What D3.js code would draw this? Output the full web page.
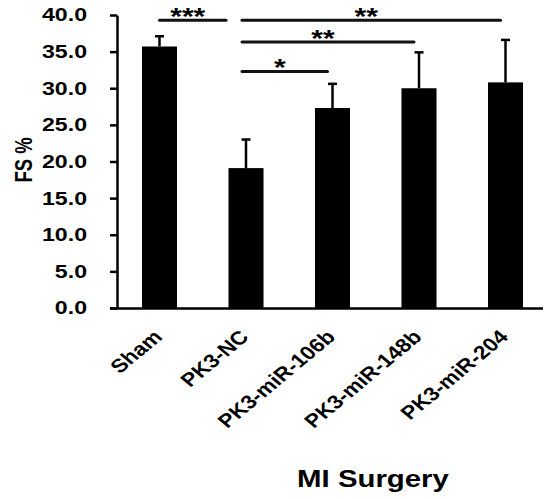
<!DOCTYPE html>
<html>
<head>
<meta charset="utf-8">
<script src="https://cdn.jsdelivr.net/npm/d3@7"></script>
<style>
  body { margin: 0; background: #fff; }
  text { font-family: "Liberation Sans", Arial, Helvetica, sans-serif; font-weight: bold; fill: #000; }
</style>
</head>
<body>
<svg id="chart" width="544" height="499"></svg>
<script>
var groups = ["Sham", "PK3-NC", "PK3-miR-106b", "PK3-miR-148b", "PK3-miR-204"];
var means = [35.7, 19.1, 27.3, 30.0, 30.8];
var errors = [1.4, 3.9, 3.3, 4.9, 5.8];
var yTicks = [0, 5, 10, 15, 20, 25, 30, 35, 40];

// significance brackets: from group, to group, level (in % units), label
var sigFrom = ["Sham", "PK3-NC", "PK3-NC", "PK3-NC"];
var sigTo = ["PK3-NC", "PK3-miR-204", "PK3-miR-148b", "PK3-miR-106b"];
var sigLevel = [39.3, 39.3, 36.3, 32.3];
var sigLabel = ["***", "**", "**", "*"];

var svg = d3.select("#chart");
var stretch = 1.25; // the original figure is stretched horizontally

var x = d3.scaleBand()
  .domain(groups)
  .range([116.25, 548.75])
  .paddingInner(0.595)
  .paddingOuter(0.2975);

var y = d3.scaleLinear().domain([0, 40]).range([308, 15]);

function cx(d) { return x(d) + x.bandwidth() / 2; }

// bars
svg.append("g").selectAll("rect")
  .data(groups)
  .enter()
  .append("rect")
  .attr("x", function (d) { return x(d); })
  .attr("y", function (d, i) { return y(means[i]); })
  .attr("width", x.bandwidth())
  .attr("height", function (d, i) { return y(0) - y(means[i]); })
  .attr("fill", "#000");

// error bars (upper only)
var eb = svg.append("g").attr("stroke", "#000").attr("stroke-width", 2.5);
groups.forEach(function (d, i) {
  var top = y(means[i] + errors[i]);
  eb.append("line")
    .attr("x1", cx(d)).attr("x2", cx(d))
    .attr("y1", y(means[i])).attr("y2", top);
  eb.append("line")
    .attr("x1", cx(d) - 4.5).attr("x2", cx(d) + 4.5)
    .attr("y1", top).attr("y2", top);
});

// y axis
var yAxis = svg.append("g")
  .attr("transform", "translate(117,0)")
  .call(d3.axisLeft(y)
    .tickValues(yTicks)
    .tickFormat(d3.format(".1f"))
    .tickSize(7)
    .tickSizeOuter(0)
    .tickPadding(23));
yAxis.select(".domain").attr("stroke", "#000").attr("stroke-width", 2.5);
yAxis.selectAll(".tick line").attr("stroke", "#000").attr("stroke-width", 2.5);
yAxis.selectAll(".tick text")
  .style("font-size", "18.5px")
  .style("font-family", "'Liberation Sans', Arial, sans-serif")
  .style("font-weight", "bold")
  .attr("fill", "#000")
  .attr("transform", function () {
    var tx = +d3.select(this).attr("x");
    return "translate(" + tx + ",0) scale(" + stretch + ",1) translate(" + (-tx) + ",0)";
  });

// x axis baseline
svg.append("line")
  .attr("x1", 110).attr("x2", 543)
  .attr("y1", y(0) + 0.5).attr("y2", y(0) + 0.5)
  .attr("stroke", "#000").attr("stroke-width", 2.5);

// x labels
svg.append("g").selectAll("text")
  .data(groups)
  .enter()
  .append("text")
  .attr("transform", function (d) {
    return "translate(" + (cx(d) + 4) + ",338) scale(1.2,1) rotate(-45)";
  })
  .attr("text-anchor", "end")
  .style("font-size", "19px")
  .text(function (d) { return d; });

// y axis title
svg.append("text")
  .attr("transform", "translate(32,160) scale(" + stretch + ",1) rotate(-90)")
  .attr("text-anchor", "middle")
  .style("font-size", "18.5px")
  .text("FS %");

// x axis title
svg.append("text")
  .attr("transform", "translate(373,487) scale(" + stretch + ",1)")
  .attr("text-anchor", "middle")
  .style("font-size", "23.5px")
  .text("MI Surgery");

// significance brackets
var sg = svg.append("g");
sigLabel.forEach(function (lab, i) {
  var x1 = i === 0 ? cx(sigFrom[i]) : cx(sigFrom[i]) - 4;
  var x2 = i === 0 ? cx(sigTo[i]) - 20 : cx(sigTo[i]) - 5;
  var ly = y(sigLevel[i]);
  sg.append("text")
    .attr("transform", "translate(" + ((x1 + x2) / 2 - 5) + "," + (ly + 5) + ") scale(" + stretch + ",1)")
    .attr("text-anchor", "middle")
    .style("font-size", "24px")
    .text(lab);
  sg.append("line")
    .attr("x1", x1).attr("x2", x2)
    .attr("y1", ly).attr("y2", ly)
    .attr("stroke", "#111")
    .attr("stroke-width", 3)
    .attr("stroke-linecap", "round");
});
</script>
</body>
</html>
